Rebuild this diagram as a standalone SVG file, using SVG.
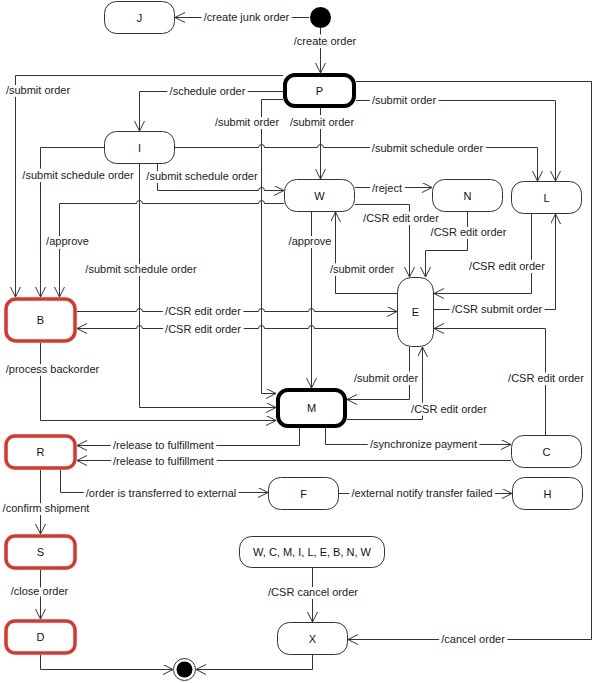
<svg xmlns="http://www.w3.org/2000/svg" width="593" height="683" viewBox="0 0 593 683">
<style>
.n{fill:#fff;stroke:#333;stroke-width:1}
.p{fill:#fff;stroke:#000;stroke-width:4}
.r{fill:#fff;stroke:#d8372c;stroke-width:3.5}
.t{font-family:"Liberation Sans",Arial,sans-serif;font-size:11px;fill:#111;text-anchor:middle}
.c path{fill:none;stroke:#333;stroke-width:1;marker-end:url(#a)}
.l{font-family:"Liberation Sans",Arial,sans-serif;font-size:11px;fill:#222;text-anchor:middle;stroke:#fff;stroke-width:6;paint-order:stroke;stroke-linejoin:round}
</style>
<defs>
<marker id="a" markerUnits="userSpaceOnUse" markerWidth="12" markerHeight="12" refX="10" refY="5" orient="auto">
<path d="M0,0 L10,5 L0,10" fill="none" stroke="#333" stroke-width="1"/>
</marker>
</defs>
<rect width="593" height="683" fill="#fff"/>
<g class="c" id="connectors">
<path d="M309,17.5 H175"/>
<path d="M320.5,28 V73"/>
<path d="M283,75.5 H15.5 V297"/>
<path d="M356,81.5 H591.5 V639.5 H348"/>
<path d="M356,100.5 H555.5 V181"/>
<path d="M283,91.5 H139.5 V131"/>
<path d="M283,99.5 H261.5 V393.5 H276"/>
<path d="M320.5,108 V179"/>
<path d="M175,147.5 H258.5 A3,3 0 0 1 264.5,147.5 H317.5 A3,3 0 0 1 323.5,147.5 H537.5 V181"/>
<path d="M104,147.5 H40.5 V297"/>
<path d="M157.5,164 V190.5 H258.5 A3,3 0 0 1 264.5,190.5 H284"/>
<path d="M139.5,164 V407.5 H276"/>
<path d="M284,203.5 H264.5 A3,3 0 0 0 258.5,203.5 H142.5 A3,3 0 0 0 136.5,203.5 H59.5 V297"/>
<path d="M311.5,212 V388"/>
<path d="M355,187.5 H432"/>
<path d="M355,204.5 H409.5 V277"/>
<path d="M397,293.5 H335.5 V212"/>
<path d="M467.5,212 V250.5 H425.5 V277"/>
<path d="M531.5,214 V293.5 H434"/>
<path d="M434,309.5 H555.5 V214"/>
<path d="M77,311.5 H136.5 A3,3 0 0 1 142.5,311.5 H258.5 A3,3 0 0 1 264.5,311.5 H308.5 A3,3 0 0 1 314.5,311.5 H397"/>
<path d="M397,328.5 H314.5 A3,3 0 0 0 308.5,328.5 H264.5 A3,3 0 0 0 258.5,328.5 H142.5 A3,3 0 0 0 136.5,328.5 H77"/>
<path d="M409.5,347 V399.5 H347"/>
<path d="M347,419.5 H422.5 V347"/>
<path d="M545.5,435 V328.5 H434"/>
<path d="M40.5,343 V420.5 H276"/>
<path d="M299.5,428 V445.5 H77"/>
<path d="M511,460.5 H77"/>
<path d="M325.5,428 V444.5 H511"/>
<path d="M60.5,470 V492.5 H268"/>
<path d="M339,493.5 H512"/>
<path d="M40.5,470 V534"/>
<path d="M40.5,570 V619"/>
<path d="M312.5,568 V622"/>
<path d="M40.5,655 V669.5 H173"/>
<path d="M312.5,655 V669.5 H196"/>
</g>
<g id="labels">
<text class="l" x="246.5" y="21">/create junk order</text>
<text class="l" x="325" y="45">/create order</text>
<text class="l" x="38" y="94">/submit order</text>
<text class="l" x="207.5" y="95">/schedule order</text>
<text class="l" x="247" y="126">/submit order</text>
<text class="l" x="322" y="126">/submit order</text>
<text class="l" x="404" y="104">/submit order</text>
<text class="l" x="427.5" y="152">/submit schedule order</text>
<text class="l" x="78" y="179">/submit schedule order</text>
<text class="l" x="202" y="180">/submit schedule order</text>
<text class="l" x="141" y="273">/submit schedule order</text>
<text class="l" x="67.5" y="245">/approve</text>
<text class="l" x="310" y="245">/approve</text>
<text class="l" x="387" y="192">/reject</text>
<text class="l" x="401" y="222">/CSR edit order</text>
<text class="l" x="468.5" y="236">/CSR edit order</text>
<text class="l" x="362" y="273">/submit order</text>
<text class="l" x="507" y="270">/CSR edit order</text>
<text class="l" x="497" y="313">/CSR submit order</text>
<text class="l" x="203" y="315">/CSR edit order</text>
<text class="l" x="203" y="333">/CSR edit order</text>
<text class="l" x="52.5" y="373">/process backorder</text>
<text class="l" x="386" y="382">/submit order</text>
<text class="l" x="449" y="413">/CSR edit order</text>
<text class="l" x="546" y="382">/CSR edit order</text>
<text class="l" x="163.5" y="449">/release to fulfillment</text>
<text class="l" x="163.5" y="465">/release to fulfillment</text>
<text class="l" x="423.5" y="448">/synchronize payment</text>
<text class="l" x="161" y="497">/order is transferred to external</text>
<text class="l" x="422" y="497">/external notify transfer failed</text>
<text class="l" x="46" y="512">/confirm shipment</text>
<text class="l" x="39.5" y="595">/close order</text>
<text class="l" x="313" y="596">/CSR cancel order</text>
<text class="l" x="473" y="643">/cancel order</text>
</g>
<g id="start"><circle cx="320.5" cy="17.5" r="10.5" fill="#000"/></g>
<g id="end"><circle cx="184.5" cy="669.5" r="11" fill="#fff" stroke="#333" stroke-width="1"/><circle cx="184.5" cy="669.5" r="8" fill="#000"/></g>
<g id="J"><rect class="n" x="104.5" y="1.5" width="70" height="32" rx="12"/><text class="t" x="139.5" y="21.5">J</text></g>
<g id="P"><rect class="p" x="285" y="75" width="69" height="31" rx="10"/><text class="t" x="319.5" y="94.5">P</text></g>
<g id="I"><rect class="n" x="104.5" y="131.5" width="70" height="32" rx="12"/><text class="t" x="139.5" y="151.5">I</text></g>
<g id="W"><rect class="n" x="284.5" y="179.5" width="70" height="32" rx="12"/><text class="t" x="319.5" y="199.5">W</text></g>
<g id="N"><rect class="n" x="432.5" y="179.5" width="70" height="32" rx="12"/><text class="t" x="467.5" y="199.5">N</text></g>
<g id="L"><rect class="n" x="511.5" y="181.5" width="70" height="32" rx="12"/><text class="t" x="546.5" y="201.5">L</text></g>
<g id="E"><rect class="n" x="397.5" y="277.5" width="36" height="69" rx="14"/><text class="t" x="415.5" y="316">E</text></g>
<g id="B"><rect class="r" x="6" y="299" width="69" height="42" rx="10"/><text class="t" x="40.5" y="324">B</text></g>
<g id="M"><rect class="p" x="278" y="390" width="67" height="36" rx="10"/><text class="t" x="311.5" y="412">M</text></g>
<g id="R"><rect class="r" x="6" y="436" width="69" height="32" rx="9"/><text class="t" x="40.5" y="456">R</text></g>
<g id="S"><rect class="r" x="6" y="536" width="69" height="32" rx="9"/><text class="t" x="40.5" y="556">S</text></g>
<g id="D"><rect class="r" x="6" y="621" width="69" height="32" rx="9"/><text class="t" x="40.5" y="641">D</text></g>
<g id="F"><rect class="n" x="268.5" y="477.5" width="70" height="32" rx="12"/><text class="t" x="303.5" y="497.5">F</text></g>
<g id="C"><rect class="n" x="511.5" y="435.5" width="70" height="32" rx="12"/><text class="t" x="546.5" y="455.5">C</text></g>
<g id="H"><rect class="n" x="512.5" y="477.5" width="70" height="32" rx="12"/><text class="t" x="547.5" y="497.5">H</text></g>
<g id="WCM"><rect class="n" x="239.5" y="536.5" width="145" height="31" rx="12"/><text class="t" x="312" y="556">W, C, M, I, L, E, B, N, W</text></g>
<g id="X"><rect class="n" x="277.5" y="622.5" width="70" height="32" rx="12"/><text class="t" x="312.5" y="642.5">X</text></g>
</svg>
